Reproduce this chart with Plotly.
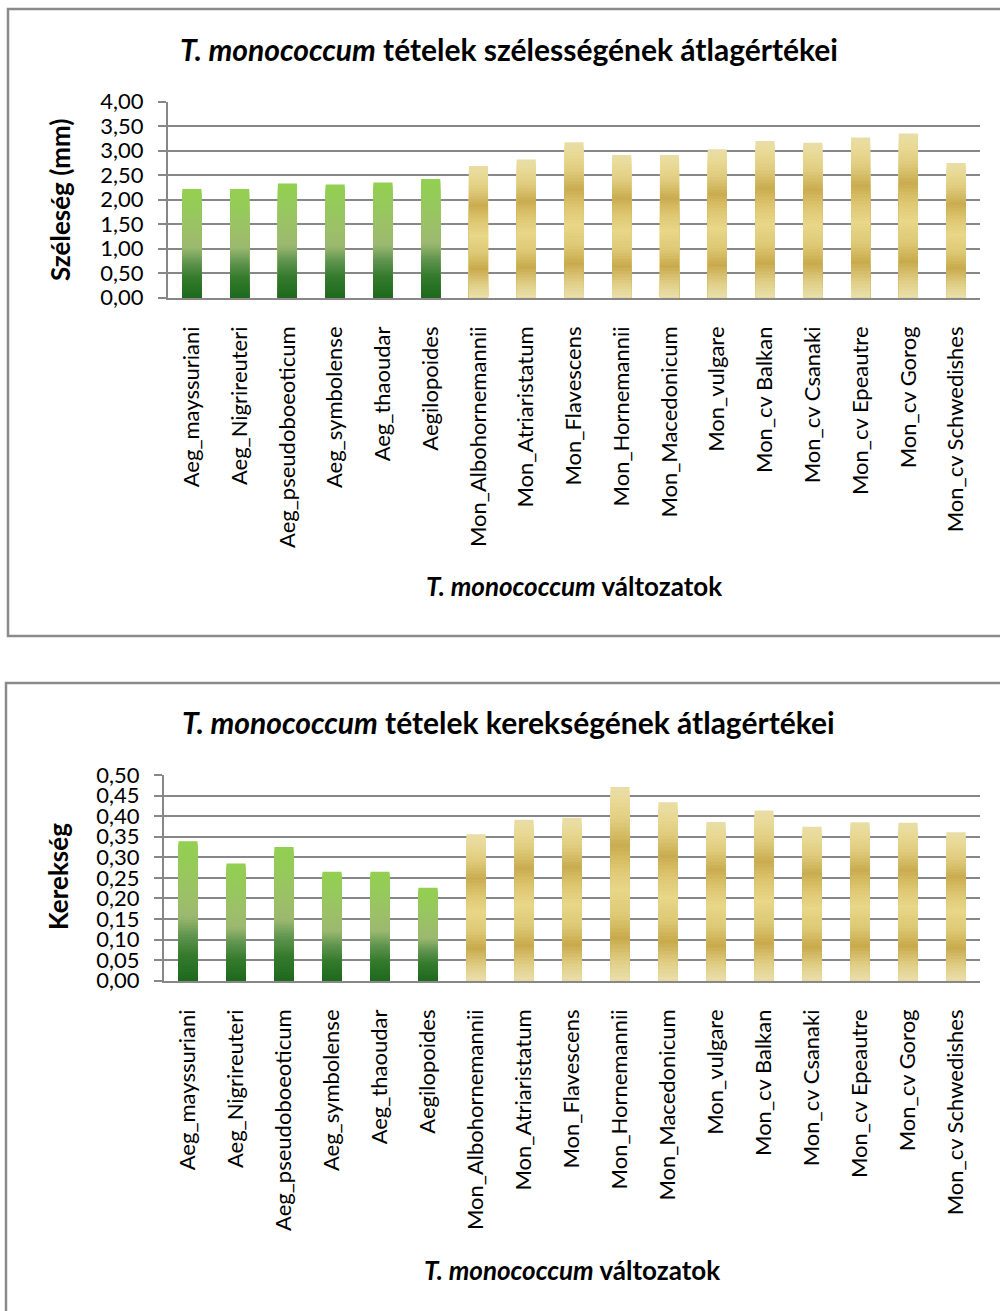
import plotly.graph_objects as go

# ---------------- data ----------------
categories = ["Aeg_mayssuriani", "Aeg_Nigrireuteri", "Aeg_pseudoboeoticum", "Aeg_symbolense",
              "Aeg_thaoudar", "Aegilopoides", "Mon_Albohornemannii", "Mon_Atriaristatum",
              "Mon_Flavescens", "Mon_Hornemannii", "Mon_Macedonicum", "Mon_vulgare",
              "Mon_cv Balkan", "Mon_cv Csanaki", "Mon_cv Epeautre", "Mon_cv Gorog",
              "Mon_cv Schwedishes"]
groups = ["Aeg", "Aeg", "Aeg", "Aeg", "Aeg", "Aeg",
          "Mon", "Mon", "Mon", "Mon", "Mon", "Mon", "Mon", "Mon", "Mon", "Mon", "Mon"]
szelesseg = [2.22, 2.22, 2.33, 2.31, 2.35, 2.42, 2.69, 2.82, 3.17, 2.91, 2.91, 3.03,
             3.20, 3.16, 3.27, 3.35, 2.75]
kerekseg = [0.339, 0.285, 0.325, 0.265, 0.265, 0.226, 0.356, 0.391, 0.396, 0.471, 0.434,
            0.386, 0.414, 0.374, 0.385, 0.384, 0.361]

title1 = "<b><i>T. monococcum</i> tételek szélességének átlagértékei</b>"
title2 = "<b><i>T. monococcum</i> tételek kerekségének átlagértékei</b>"
ytitle1 = "<b>Széleség (mm)</b>"
ytitle2 = "<b>Kerekség</b>"
xtitle = "<b><i>T. monococcum</i> változatok</b>"

# ---------------- style ----------------
W, H = 1000, 1311
FONT = "Lato, 'Open Sans', sans-serif"
GRID = "#878787"
N_LEVELS = 48

green_stops = [(0.0, (30, 105, 30)), (0.18, (52, 122, 44)), (0.32, (95, 148, 78)),
               (0.46, (156, 185, 112)), (0.62, (156, 192, 104)), (0.80, (150, 201, 92)),
               (1.0, (146, 208, 80))]
gold_stops = [(0.0, (234, 224, 172)), (0.10, (224, 206, 134)), (0.22, (201, 170, 76)),
              (0.34, (222, 201, 118)), (0.47, (232, 215, 136)), (0.58, (222, 199, 114)),
              (0.70, (202, 172, 80)), (0.82, (224, 204, 126)), (0.92, (232, 217, 148)),
              (1.0, (233, 222, 168))]


def grad(stops, f):
    for (f0, c0), (f1, c1) in zip(stops[:-1], stops[1:]):
        if f0 <= f <= f1:
            t = (f - f0) / (f1 - f0) if f1 > f0 else 0
            return "rgb(%d,%d,%d)" % tuple(round(a + (b - a) * t) for a, b in zip(c0, c1))
    return "rgb(%d,%d,%d)" % stops[-1][1]


def px_x(x):
    return x / W


def px_y(y):
    return 1 - y / H


fig = go.Figure()


def add_bars(values, xa, ya):
    for k in range(N_LEVELS):
        top_frac = 1 - k / N_LEVELS
        mid = top_frac - 0.5 / N_LEVELS
        colors = [grad(green_stops if g == "Aeg" else gold_stops, mid) for g in groups]
        fig.add_trace(go.Bar(
            x=categories, y=[v * top_frac for v in values],
            marker=dict(color=colors, line=dict(width=0)),
            xaxis=xa, yaxis=ya, showlegend=False, hoverinfo="skip",
        ))


add_bars(szelesseg, "x", "y")
add_bars(kerekseg, "x2", "y2")

tickfont = dict(family=FONT, size=22, color="black")
catfont = dict(family=FONT, size=22, color="black")

common_y = dict(showgrid=True, gridcolor=GRID, gridwidth=2, showline=True, linecolor=GRID,
                linewidth=2, ticks="outside", ticklen=8, tickwidth=2, tickcolor=GRID,
                tickfont=tickfont, zeroline=False, ticklabelstandoff=10, fixedrange=True,
                automargin=False, title=None)
common_x = dict(showline=True, linecolor=GRID, linewidth=2, ticks="", tickangle=-90,
                tickfont=catfont, showgrid=False, ticklabelstandoff=18, fixedrange=True,
                automargin=False, title=None)

fig.update_layout(
    template="none",
    width=W, height=H,
    margin=dict(l=0, r=0, t=0, b=0, pad=0, autoexpand=False),
    paper_bgcolor="white", plot_bgcolor="white",
    barmode="overlay", bargap=0.6,
    separators=", ",
    font=dict(family=FONT, color="black"),
    xaxis=dict(domain=[px_x(168), px_x(980)], anchor="y", **common_x),
    yaxis=dict(domain=[px_y(297.7), px_y(101.7)], anchor="x", range=[0, 4], dtick=0.5,
               tickformat=".2f", **common_y),
    xaxis2=dict(domain=[px_x(164), px_x(980)], anchor="y2", **common_x),
    yaxis2=dict(domain=[px_y(980.7), px_y(775)], anchor="x2", range=[0, 0.5], dtick=0.05,
                tickformat=".2f", **common_y),
    shapes=[
        dict(type="rect", xref="paper", yref="paper", x0=px_x(8), x1=1.02, y0=px_y(636),
             y1=px_y(9), line=dict(color="#8a8a8a", width=2.5), fillcolor="rgba(0,0,0,0)",
             layer="below"),
        dict(type="rect", xref="paper", yref="paper", x0=px_x(6), x1=1.02, y0=-0.02,
             y1=px_y(683), line=dict(color="#8a8a8a", width=2.5), fillcolor="rgba(0,0,0,0)",
             layer="below"),
    ],
    annotations=[
        dict(text=title1, x=px_x(509), y=px_y(49), xref="paper", yref="paper",
             showarrow=False, xanchor="center", yanchor="middle",
             font=dict(family=FONT, size=30, color="black")),
        dict(text=title2, x=px_x(508), y=px_y(722), xref="paper", yref="paper",
             showarrow=False, xanchor="center", yanchor="middle",
             font=dict(family=FONT, size=30, color="black")),
        dict(text=xtitle, x=px_x(574), y=px_y(586), xref="paper", yref="paper",
             showarrow=False, xanchor="center", yanchor="middle",
             font=dict(family=FONT, size=26, color="black")),
        dict(text=xtitle, x=px_x(572), y=px_y(1270), xref="paper", yref="paper",
             showarrow=False, xanchor="center", yanchor="middle",
             font=dict(family=FONT, size=26, color="black")),
        dict(text=ytitle1, x=px_x(60), y=px_y(200), xref="paper", yref="paper",
             showarrow=False, xanchor="center", yanchor="middle", textangle=-90,
             font=dict(family=FONT, size=26, color="black")),
        dict(text=ytitle2, x=px_x(58), y=px_y(877), xref="paper", yref="paper",
             showarrow=False, xanchor="center", yanchor="middle", textangle=-90,
             font=dict(family=FONT, size=26, color="black")),
    ],
)

fig.write_html("out.html")
